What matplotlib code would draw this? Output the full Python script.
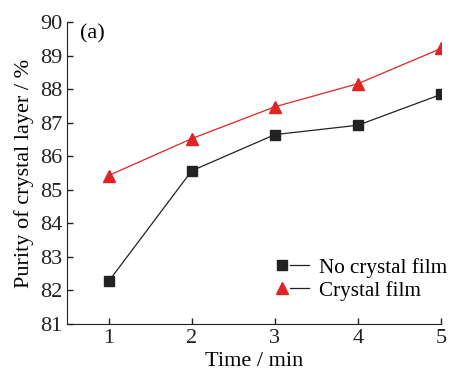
import matplotlib.pyplot as plt
from matplotlib.legend_handler import HandlerLine2D
from matplotlib.lines import Line2D

plt.rcParams['font.family'] = ['Liberation Serif', 'DejaVu Serif']

# 数据
time_min = [1, 2, 3, 4, 5]
no_film = [82.27, 85.57, 86.65, 86.93, 87.85]
with_film = [85.43, 86.53, 87.48, 88.17, 89.22]


# 图例: 标记在左, 线在右
class MarkerLeftHandler(HandlerLine2D):
    def create_artists(self, legend, orig_handle, xdescent, ydescent,
                       width, height, fontsize, trans):
        y = (height - ydescent) / 2
        x0 = -xdescent
        line = Line2D([x0 + 0.28 * width, x0 + width], [y, y],
                      color='#222222', lw=0.9)
        mk = Line2D([x0], [y], linestyle='none',
                    marker=orig_handle.get_marker(),
                    markersize=orig_handle.get_markersize(),
                    markerfacecolor=orig_handle.get_markerfacecolor(),
                    markeredgecolor=orig_handle.get_markeredgecolor())
        line.set_transform(trans)
        mk.set_transform(trans)
        return [line, mk]


fig = plt.figure(figsize=(4.51, 3.72), dpi=100)
ax = fig.add_axes([0.1486, 0.129, 0.8294, 0.811])

l1, = ax.plot(time_min, no_film, color='#222222', lw=0.9, marker='s', ms=7.5,
              label='No crystal film')
l2, = ax.plot(time_min, with_film, color='#e02424', lw=0.9, marker='^', ms=8,
              label='Crystal film')

ax.set_xlim(0.5, 5.0)
ax.set_ylim(81, 90)
ax.set_xticks(time_min)
ax.set_yticks(range(81, 91))
ax.tick_params(direction='in', labelsize=16, length=4, width=1, colors='#222222')
for s in ['top', 'right']:
    ax.spines[s].set_visible(False)
for s in ['left', 'bottom']:
    ax.spines[s].set_color('#222222')
ax.set_xlabel('Time / min', fontsize=16, labelpad=3)
ax.set_ylabel('Purity of crystal layer / %', fontsize=16, labelpad=4)
ax.text(0.035, 0.995, '(a)', transform=ax.transAxes, fontsize=16, va='top')

ax.legend([l1, l2], ['No crystal film', 'Crystal film'],
          handler_map={Line2D: MarkerLeftHandler()},
          loc='lower right', bbox_to_anchor=(1.05, 0.035), frameon=False,
          fontsize=15.2, handlelength=1.3, handletextpad=0.45,
          labelspacing=0.15, borderpad=0.1)

fig.savefig('out.png', dpi=100)
